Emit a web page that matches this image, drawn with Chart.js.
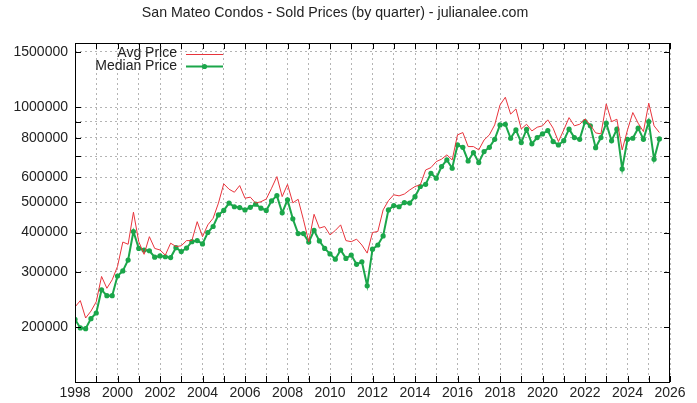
<!DOCTYPE html>
<html lang="en">
<head>
  <meta charset="UTF-8" />
  <title>San Mateo Condos - Sold Prices</title>
  <style>
    html, body { margin: 0; padding: 0; background: #fff; }
    canvas { display: block; }
  </style>
</head>
<body>
  <canvas id="priceChart" width="697" height="403"></canvas>

  <script src="https://cdn.jsdelivr.net/npm/chart.js"></script>
  <script>
    // quarterly data, 1998 Q1 .. 2025 Q3
    const firstYear = 1998;
    const xTicks = [1998, 1999, 2000, 2001, 2002, 2003, 2004, 2005, 2006, 2007, 2008, 2009, 2010, 2011, 2012,
      2013, 2014, 2015, 2016, 2017, 2018, 2019, 2020, 2021, 2022, 2023, 2024, 2025, 2026];
    const yTicks = [200000, 300000, 400000, 500000, 600000, 700000, 800000, 900000, 1000000, 1500000];
    const yHidden = [700000, 900000];

    const avgPrice = [
      232000, 243000, 214000, 225000, 241000, 290000, 266000, 283000, 312000, 373000,
      367000, 464000, 374000, 341000, 388000, 356000, 352000, 339000, 370000, 361000,
      363000, 377000, 377000, 433000, 388000, 423000, 444000, 496000, 571000, 549000,
      537000, 564000, 514000, 518000, 496000, 501000, 511000, 553000, 602000, 520000,
      569000, 497000, 510000, 439000, 374000, 457000, 413000, 418000, 393000, 406000,
      423000, 377000, 374000, 381000, 365000, 344000, 400000, 403000, 472000, 505000,
      527000, 523000, 530000, 546000, 560000, 567000, 632000, 643000, 672000, 684000,
      706000, 680000, 817000, 831000, 750000, 750000, 732000, 787000, 817000, 879000,
      1017000, 1076000, 951000, 988000, 853000, 883000, 841000, 864000, 873000, 912000,
      858000, 778000, 847000, 927000, 873000, 883000, 918000, 879000, 829000, 823000,
      1025000, 900000, 916000, 732000, 847000, 962000, 890000, 837000, 1030000, 873000,
      831000
    ];
    const medianPrice = [
      212000, 199000, 198000, 213000, 222000, 263000, 252000, 252000, 291000, 302000,
      327000, 403000, 356000, 352000, 350000, 334000, 337000, 335000, 333000, 358000,
      348000, 357000, 374000, 377000, 368000, 400000, 418000, 455000, 470000, 496000,
      483000, 480000, 472000, 481000, 492000, 478000, 470000, 504000, 524000, 462000,
      508000, 442000, 397000, 397000, 373000, 406000, 376000, 356000, 342000, 329000,
      352000, 331000, 339000, 317000, 323000, 271000, 354000, 365000, 390000, 472000,
      487000, 483000, 498000, 496000, 520000, 560000, 569000, 617000, 595000, 648000,
      680000, 640000, 759000, 746000, 675000, 718000, 667000, 723000, 746000, 791000,
      879000, 883000, 797000, 847000, 772000, 850000, 765000, 801000, 823000, 843000,
      778000, 759000, 783000, 852000, 801000, 791000, 900000, 873000, 744000, 801000,
      890000, 782000, 852000, 637000, 791000, 797000, 858000, 791000, 900000, 684000,
      793000
    ];

    const toPoints = arr => arr.map((v, i) => ({ x: firstYear + i / 4, y: v }));

    const RED = "#e8343c";
    const GREEN = "#1ba64a";
    const FONT = "'Liberation Sans', Arial, sans-serif";

    // box round the plot, inward ticks and the legend, gnuplot style
    const gnuFrame = {
      id: "gnuFrame",
      afterDraw(chart) {
        const { ctx, chartArea: a, scales } = chart;
        ctx.save();
        ctx.strokeStyle = "#000";
        ctx.lineWidth = 1;
        ctx.strokeRect(a.left + 0.5, a.top + 0.5, a.right - a.left - 1, a.bottom - a.top);
        ctx.beginPath();
        yTicks.forEach(v => {
          const y = Math.round(scales.y.getPixelForValue(v)) + 0.5;
          ctx.moveTo(a.left, y); ctx.lineTo(a.left + 6, y);
          ctx.moveTo(a.right - 6, y); ctx.lineTo(a.right, y);
        });
        xTicks.forEach(v => {
          const x = Math.round(scales.x.getPixelForValue(v)) + 0.5;
          ctx.moveTo(x, a.bottom); ctx.lineTo(x, a.bottom - 6);
          ctx.moveTo(x, a.top); ctx.lineTo(x, a.top + 6);
        });
        ctx.stroke();

        // legend
        ctx.font = "14px " + FONT;
        ctx.fillStyle = "#222";
        ctx.textAlign = "right";
        ctx.textBaseline = "middle";
        ctx.fillText("Avg Price", 177, 53);
        ctx.fillText("Median Price", 177, 66);
        ctx.strokeStyle = RED;
        ctx.beginPath(); ctx.moveTo(186, 54.5); ctx.lineTo(223, 54.5); ctx.stroke();
        ctx.strokeStyle = GREEN;
        ctx.lineWidth = 2;
        ctx.beginPath(); ctx.moveTo(186, 66.5); ctx.lineTo(223, 66.5); ctx.stroke();
        ctx.fillStyle = GREEN;
        ctx.beginPath(); ctx.arc(204.5, 66.5, 2.6, 0, Math.PI * 2); ctx.fill();
        ctx.restore();
      }
    };

    const ctx = document.getElementById("priceChart").getContext("2d");
    new Chart(ctx, {
      type: "line",
      data: {
        datasets: [
          {
            label: "Avg Price",
            data: toPoints(avgPrice),
            borderColor: RED,
            borderWidth: 1,
            pointRadius: 0,
            tension: 0
          },
          {
            label: "Median Price",
            data: toPoints(medianPrice),
            borderColor: GREEN,
            backgroundColor: GREEN,
            borderWidth: 2,
            pointRadius: 2.6,
            pointBorderWidth: 0,
            tension: 0
          }
        ]
      },
      options: {
        responsive: false,
        animation: false,
        layout: { padding: { left: 0, right: 27, top: 0, bottom: 0 } },
        plugins: {
          legend: { display: false },
          tooltip: { enabled: false },
          title: {
            display: true,
            text: "San Mateo Condos - Sold Prices (by quarter) - julianalee.com",
            color: "#222",
            font: { family: FONT, size: 14.2, weight: "normal" },
            padding: { top: 4.5, bottom: 21.46 }
          }
        },
        scales: {
          x: {
            type: "linear",
            min: 1998,
            max: 2026,
            afterBuildTicks: s => { s.ticks = xTicks.map(v => ({ value: v })); },
            afterFit: s => { s.height = 21; },
            ticks: {
              autoSkip: false,
              maxRotation: 0,
              padding: 3,
              color: "#222",
              font: { family: FONT, size: 14 },
              callback: v => (v % 2 === 0 ? String(v) : "")
            },
            grid: { color: "#b4b4b4", drawTicks: false, tickLength: 0 },
            border: { display: false, dash: [2, 3] }
          },
          y: {
            type: "logarithmic",
            min: 134000,
            max: 1600000,
            afterBuildTicks: s => { s.ticks = yTicks.map(v => ({ value: v })); },
            afterFit: s => { s.width = 75; },
            ticks: {
              autoSkip: false,
              padding: 7,
              color: "#222",
              font: { family: FONT, size: 14 },
              callback: v => (yHidden.includes(v) ? "" : String(v))
            },
            grid: { color: "#b4b4b4", drawTicks: false, tickLength: 0 },
            border: { display: false, dash: [2, 3] }
          }
        }
      },
      plugins: [gnuFrame]
    });
  </script>
</body>
</html>
